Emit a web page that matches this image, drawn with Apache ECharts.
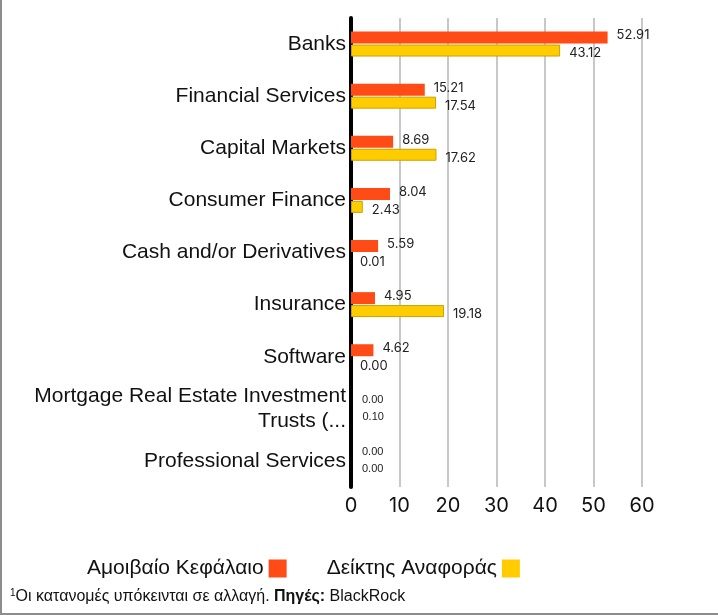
<!DOCTYPE html>
<html>
<head>
<meta charset="utf-8">
<script src="https://cdn.jsdelivr.net/npm/echarts@6/dist/echarts.min.js"></script>
<style>
  html, body { margin: 0; padding: 0; background: #fff; }
  #chart {
    width: 718px;
    height: 615px;
    box-sizing: border-box;
    border-left: 2px solid #8c8c8c;
    border-bottom: 2px solid #8c8c8c;
  }
</style>
</head>
<body>
<div id="chart"></div>
<script>
// 类别
const categories = [
  'Banks',
  'Financial Services',
  'Capital Markets',
  'Consumer Finance',
  'Cash and/or Derivatives',
  'Insurance',
  'Software',
  'Mortgage Real Estate Investment Trusts (...',
  'Professional Services'
]
// 系列数据
const fundName = 'Αμοιβαίο Κεφάλαιο'
const indexName = 'Δείκτης Αναφοράς'
const fundValues = [52.91, 15.21, 8.69, 8.04, 5.59, 4.95, 4.62, 0.00, 0.00]
const indexValues = [43.12, 17.54, 17.62, 2.43, 0.01, 19.18, 0.00, 0.10, 0.00]
// x轴刻度
const xTicks = [0, 10, 20, 30, 40, 50, 60]
const footnote = 'Οι κατανομές υπόκεινται σε αλλαγή.'
const sourceLabel = 'Πηγές:'
const sourceName = 'BlackRock'

const colorList = ['#ff4b16', '#ffcc00']
// 最后两个类别的数值标签字体小一些
const smallLabelRows = [7, 8]

const makeData = (values, dy) => values.map((v, i) => {
  const item = { value: v }
  if (smallLabelRows.includes(i)) {
    item.label = { fontSize: 11, fontFamily: 'Liberation Sans', offset: [2, dy * 2] }
  }
  // 接近0的柱子不画边框（标签保留）
  if (v < 0.2) {
    item.itemStyle = { borderWidth: 0, color: 'rgba(0,0,0,0)' }
  }
  return item
})

const chart = echarts.init(document.getElementById('chart'))

const option = {
  animation: false,
  color: colorList,
  grid: {
    left: 349,
    right: 76,
    top: 18,
    bottom: 126
  },
  xAxis: {
    type: 'value',
    min: xTicks[0],
    max: xTicks[xTicks.length - 1],
    interval: 10,
    axisLine: { show: false },
    axisTick: { show: false },
    splitLine: {
      show: true,
      lineStyle: { color: '#c8c8c8', width: 2 }
    },
    axisLabel: {
      margin: 9,
      color: '#111',
      fontSize: 20,
      fontFamily: 'Inter'
    }
  },
  yAxis: {
    type: 'category',
    data: categories,
    inverse: true,
    axisTick: { show: false },
    axisLine: {
      show: true,
      lineStyle: { color: '#000', width: 4 }
    },
    axisLabel: {
      margin: 5,
      color: '#111',
      fontSize: 21,
      fontFamily: 'Liberation Sans',
      lineHeight: 25,
      formatter: (value) => value.replace(' Trusts', '\nTrusts')
    }
  },
  legend: {
    data: [fundName, indexName],
    left: 80,
    top: 553,
    align: 'right',
    icon: 'rect',
    itemWidth: 18,
    itemHeight: 18,
    itemGap: 40,
    itemStyle: { borderWidth: 0 },
    textStyle: {
      color: '#111',
      fontSize: 21,
      fontFamily: 'Liberation Sans'
    }
  },
  series: [
    {
      name: fundName,
      type: 'bar',
      data: makeData(fundValues, -1),
      barWidth: 12,
      barGap: '8%',
      itemStyle: { color: colorList[0] },
      label: {
        show: true,
        position: 'right',
        distance: 9,
        offset: [0, -2],
        color: '#222',
        fontSize: 13,
        fontFamily: 'Inter',
        formatter: (p) => p.value.toFixed(2)
      }
    },
    {
      name: indexName,
      type: 'bar',
      data: makeData(indexValues, 1),
      barWidth: 12,
      itemStyle: { color: colorList[1], borderColor: '#c9a300', borderWidth: 1 },
      label: {
        show: true,
        position: 'right',
        distance: 9,
        offset: [0, 3],
        color: '#222',
        fontSize: 13,
        fontFamily: 'Inter',
        formatter: (p) => p.value.toFixed(2)
      }
    }
  ],
  // 脚注
  graphic: [
    {
      type: 'text',
      left: 8,
      top: 588,
      style: {
        text: '{sup|1}{n|' + footnote + ' }{b|' + sourceLabel + '}{n| ' + sourceName + '}',
        rich: {
          sup: { fontSize: 10, fontFamily: 'Liberation Sans', fill: '#111', verticalAlign: 'top', padding: [0, 0, 7, 0] },
          n: { fontSize: 16, fontFamily: 'Liberation Sans', fill: '#111' },
          b: { fontSize: 16, fontFamily: 'Liberation Sans', fontWeight: 'bold', fill: '#111' }
        }
      }
    }
  ]
}

chart.setOption(option)
</script>
</body>
</html>
